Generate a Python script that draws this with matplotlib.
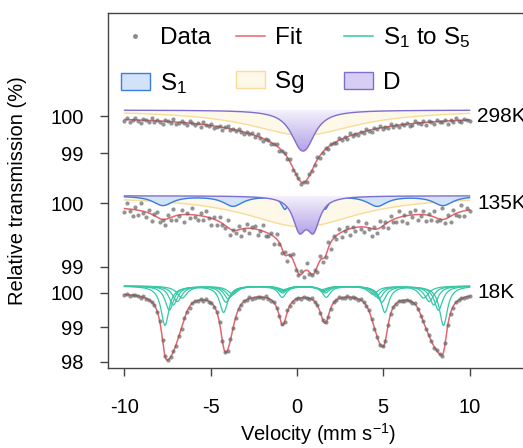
import numpy as np
import matplotlib.pyplot as plt
from matplotlib.patches import Patch
from matplotlib.lines import Line2D
from matplotlib.colors import LinearSegmentedColormap

plt.rcParams['font.family'] = ['Liberation Sans', 'DejaVu Sans']
plt.rcParams['mathtext.fontset'] = 'custom'
plt.rcParams['mathtext.rm'] = 'Liberation Sans'
plt.rcParams['mathtext.it'] = 'Liberation Sans:italic'
plt.rcParams['axes.unicode_minus'] = False

# ---- fitted components (Lorentzian lines: position mm/s, depth %, half width mm/s)
# 298K
d298_pos = [0.15, 0.55]
d298_depth = [0.6, 0.6]
d298_hw = [0.7, 0.7]
sg298_pos = [0.35]
sg298_depth = [0.68]
sg298_hw = [3.8]

# 135K
s1_135_pos = [-7.77, -3.71, -0.70, 1.62, 4.64, 8.46]
s1_135_depth = [0.15, 0.16, 0.20, 0.20, 0.16, 0.15]
s1_135_hw = [0.7, 0.7, 0.25, 0.25, 0.7, 0.7]
d135_pos = [0.14, 0.95]
d135_depth = [0.485, 0.485]
d135_hw = [0.45, 0.45]
sg135_pos = [0.3]
sg135_depth = [0.49]
sg135_hw = [4.0]

# 18K: five sextets S1..S5
sext_center = [0.42, 0.40, 0.38, 0.36, 0.34]
sext_split = [8.07, 7.80, 7.55, 7.30, 7.00]   # half distance of outer lines
sext_depth = [1.14, 0.70, 0.55, 0.45, 0.35]   # depth of outer lines
sext_hw = [0.28, 0.30, 0.30, 0.32, 0.35]
line_pos_ratio = [-1.0, -0.579, -0.158, 0.158, 0.579, 1.0]
line_int_ratio = [1.0, 0.667, 0.28, 0.28, 0.667, 1.0]

# ---- measured points: deviation from fit, in 0.01 %
resid_298 = [4, -3, 6, 1, -5, 2, 7, -2, 0, 5, -6, 3, -1, 4, 8, -4,
             -2, 3, -7, 5, 1, -3, 2, 6, -5, 0, 4, -2, 7, -6, 1, 3,
             -4, 5, 2, -1, 6, -3, -7, 4, 0, 2, -5, 3, 6, -2, 1, -4,
             5, -6, 3, 8, -1, -3, 4, 0, -5, 7, 2, -2, 3, -8, 5, 1,
             -3, 6, -1, 4, -4, 2, 0, -6, 7, 3, -2, 5, -3, 1, 4, -5,
             2, -1, 6, -7, 3, 0, 5, -2, 4, -4, 1, 7, -3, 2, -6, 5,
             0, 3, -5, 4, -1, 6, -2, 2, -4, 5, 3, -7, 1, 4, -3, 6,
             -2, 0, 5, -5, 3, 2, -4, 7, -1, 4, -6, 2, 5, -3, 1, 3]
resid_135 = [6, -9, 3, 11, -4, 8, -12, 2, 7, -5, 10, -3, -8, 5, 1, 9,
             -6, 4, -11, 7, 2, -7, 12, -2, 5, -10, 3, 8, -4, 6, -9, 1,
             10, -3, 7, -8, 2, 5, -12, 9, -1, 4, -6, 11, 3, -7, 8, -2,
             -5, 9, 1, -10, 6, 4, -3, 12, -8, 2, 7, -5, 10, -1, -9, 5,
             3, -6, 8, -11, 4, 1, -4, 9, -7, 6, 2, -10, 11, -3, 5, -8,
             7, 0, -5, 10, -2, 6, -9, 3, 8, -6, 1, 12, -4, 7, -11, 2,
             -3, 9, -7, 4, 5, -10, 6, -1, 11, -5, 3, -8, 8, 2, -6, 10,
             -2, 7, -9, 4, 1, -18, 6, -4, 9, -7, 3, 5, -10, 8, -3, 2]
resid_18 = [2, -1, 3, 0, -2, 1, 4, -3, 1, 2, -1, 0, 3, -2, 2, -4,
            1, 0, -2, 3, -1, 2, -3, 1, 4, -1, 0, 2, -2, 3, -3, 1,
            0, 2, -1, -3, 2, 1, 3, -2, 0, 4, -1, 2, -2, 1, -3, 3,
            2, -1, 0, 3, -4, 1, 2, -2, 3, 0, -1, 2, -3, 4, 1, -2,
            0, 3, -2, 1, 2, -3, 1, 0, 4, -1, -2, 2, 3, -1, 0, -3,
            2, 1, -2, 3, 0, -1, 4, -2, 1, 2, -3, 0, 3, -1, 2, -2,
            1, -3, 2, 0, 3, -2, 1, 4, -1, 0, 2, -4, 1, 3, -2, 2,
            0, -1, 3, -2, 1, 2, -3, 0, 2, 4, -1, 1, -2, 3, 0, -1]

temps = ['298K', '135K', '18K']
yticks_pct = [[100, 99], [100, 99], [100, 99, 98]]


def lorentz(v, pos, depth, hw):
    out = np.zeros_like(v)
    for p, d, w in zip(pos, depth, hw):
        out += d / (1 + ((v - p) / w) ** 2)
    return out


def sextet(v, c, b, d, w):
    pos = [c + r * b for r in line_pos_ratio]
    dep = [d * r for r in line_int_ratio]
    return lorentz(v, pos, dep, [w] * 6)


v = np.linspace(-10, 10, 801)
vd = np.linspace(-10, 10, len(resid_18))

# vertical placement of the three spectra (axis units ~ pixels)
base = {'298K': 251.4, '135K': 164.4, '18K': 75.0}
scale = {'298K': 37.0, '135K': 63.4, '18K': 34.5}
comp_off = {'298K': 0.17, '135K': 0.12, '18K': 0.2}

c_fit = '#e8646e'
c_teal = '#34c8a6'
c_s1 = '#3b7ddd'
c_s1f = '#d2e2f8'
c_sg = '#f8dc98'
c_sgf = '#fef8e9'
c_d = '#7d70cc'
c_df = '#d8cef3'

fig = plt.figure(figsize=(5.23, 4.48), dpi=100)
ax = fig.add_axes([0.206, 0.179, 0.827, 0.792])


def ty(t, pct):
    return base[t] + scale[t] * (np.asarray(pct) - 100)


def draw_fill(t, comp, edge, face, z, gradient=False):
    top = ty(t, 100 + comp_off[t])
    y = top - scale[t] * comp
    if gradient:
        poly = ax.fill_between(v, y, top, facecolor='none', lw=0, zorder=z)
        cmap = LinearSegmentedColormap.from_list('g', ['#b4a2e8', '#f6f3fc'])
        im = ax.imshow(np.linspace(0, 1, 256).reshape(-1, 1), cmap=cmap,
                       origin='lower', aspect='auto',
                       extent=[-10, 10, y.min(), top], zorder=z)
        im.set_clip_path(poly.get_paths()[0], transform=ax.transData)
    else:
        ax.fill_between(v, y, top, color=face, lw=0, zorder=z)
    ax.plot(v, y, color=edge, lw=1.0, zorder=z + 0.5)


def draw_data(t, fit_fine, fit_pts, resid):
    ax.plot(v, ty(t, 100 - fit_fine), color=c_fit, lw=1.1, zorder=5)
    ax.scatter(vd, ty(t, 100 - fit_pts - np.array(resid) / 100.0), s=9,
               color='#666666', alpha=0.7, lw=0, zorder=6)


# 298K
d298 = lorentz(v, d298_pos, d298_depth, d298_hw)
sg298 = lorentz(v, sg298_pos, sg298_depth, sg298_hw)
draw_fill('298K', sg298, c_sg, c_sgf, 1)
draw_fill('298K', d298, c_d, c_df, 2, gradient=True)
fit_pts = lorentz(vd, d298_pos, d298_depth, d298_hw) + lorentz(vd, sg298_pos, sg298_depth, sg298_hw)
draw_data('298K', d298 + sg298, fit_pts, resid_298)

# 135K
s1 = lorentz(v, s1_135_pos, s1_135_depth, s1_135_hw)
d135 = lorentz(v, d135_pos, d135_depth, d135_hw)
sg135 = lorentz(v, sg135_pos, sg135_depth, sg135_hw)
draw_fill('135K', sg135, c_sg, c_sgf, 1)
draw_fill('135K', s1, c_s1, c_s1f, 2)
draw_fill('135K', d135, c_d, c_df, 3, gradient=True)
fit_pts = (lorentz(vd, s1_135_pos, s1_135_depth, s1_135_hw)
           + lorentz(vd, d135_pos, d135_depth, d135_hw)
           + lorentz(vd, sg135_pos, sg135_depth, sg135_hw))
draw_data('135K', s1 + d135 + sg135, fit_pts, resid_135)

# 18K
total = np.zeros_like(v)
total_pts = np.zeros_like(vd)
for c, b, d, w in zip(sext_center, sext_split, sext_depth, sext_hw):
    s = sextet(v, c, b, d, w)
    total += s
    total_pts += sextet(vd, c, b, d, w)
    ax.plot(v, ty('18K', 100 + comp_off['18K']) - scale['18K'] * s,
            color=c_teal, lw=0.9, zorder=2)
draw_data('18K', total, total_pts, resid_18)

# temperature labels
for t in temps:
    ax.text(10.45, base[t], t, fontsize=15, va='center', ha='left')

# axes
ax.set_xlim(-10.97, 14.1)
ax.set_ylim(0, 354.7)
ax.set_xticks([-10, -5, 0, 5, 10])
ax.set_xticklabels(['-10', '-5', '0', '5', '10'])
ypos, ylab = [], []
for t, ticks in zip(temps, yticks_pct):
    for p in ticks:
        ypos.append(float(ty(t, p)))
        ylab.append(str(p))
ax.set_yticks(ypos)
ax.set_yticklabels(ylab)
ax.tick_params(axis='both', labelsize=14.5, direction='out', length=5.5,
               width=1, color='#444444')
ax.tick_params(axis='x', pad=16)
ax.tick_params(axis='y', pad=12)
for sp in ax.spines.values():
    sp.set_color('#444444')
    sp.set_linewidth(1.0)

ax.set_xlabel('Velocity (mm s$^{-1}$)', fontsize=14.5)
ax.set_ylabel('Relative transmission (%)', fontsize=14.5)
ax.xaxis.set_label_coords(0.486, -0.15)
ax.yaxis.set_label_coords(-0.187, 0.5)

# legend
handles = [
    Line2D([], [], marker='o', ls='none', color='#8a8a8a', markersize=2.5),
    Patch(facecolor=c_s1f, edgecolor=c_s1, lw=1),
    Line2D([], [], color=c_fit, lw=1.1),
    Patch(facecolor=c_sgf, edgecolor=c_sg, lw=1),
    Line2D([], [], color=c_teal, lw=1.1),
    Patch(facecolor=c_df, edgecolor=c_d, lw=1),
]
labels = ['Data', 'S$_1$', 'Fit', 'Sg  ', 'S$_1$ to S$_5$', 'D']
ax.legend(handles, labels, ncol=3, loc='upper left', bbox_to_anchor=(0.03, 0.965),
          frameon=False, fontsize=17.5, handlelength=1.2, handletextpad=0.4,
          columnspacing=1.05, labelspacing=0.9, borderaxespad=0, borderpad=0)

fig.savefig('out.png', dpi=100)
